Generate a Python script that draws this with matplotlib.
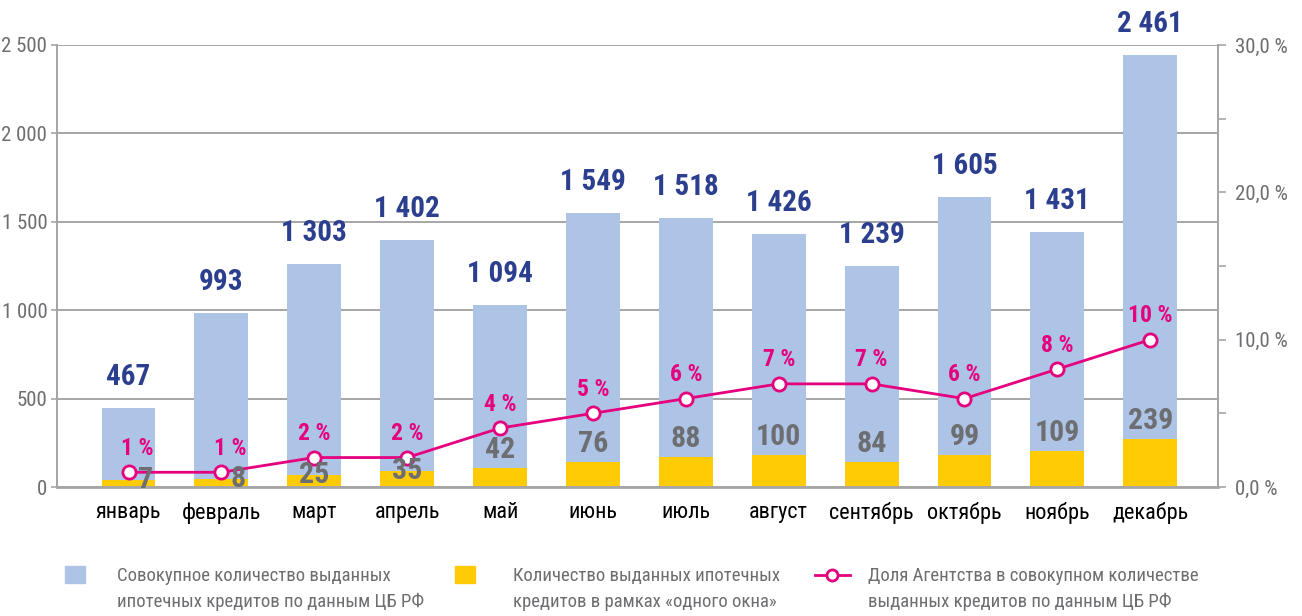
import os

import matplotlib
import numpy as np
from matplotlib import font_manager

matplotlib.use("Agg")
import matplotlib.pyplot as plt
from matplotlib.font_manager import FontProperties
from matplotlib.lines import Line2D
from matplotlib.patches import Rectangle
from matplotlib.ticker import FuncFormatter, MultipleLocator

months = ["январь", "февраль", "март", "апрель", "май", "июнь",
          "июль", "август", "сентябрь", "октябрь", "ноябрь", "декабрь"]
total_bars = [447, 984, 1261, 1397, 1029, 1550, 1521, 1431, 1250, 1640, 1442, 2443]
total_labels = ["467", "993", "1 303", "1 402", "1 094", "1 549",
                "1 518", "1 426", "1 239", "1 605", "1 431", "2 461"]
window_bars = [40, 45, 68, 92, 109, 143, 170, 181, 143, 181, 204, 271]
window_labels = ["7", "8", "25", "35", "42", "76", "88", "100", "84", "99", "109", "239"]
share_pct = [1, 1, 2, 2, 4, 5, 6, 7, 7, 6, 8, 10]

legend_labels = [
    "Совокупное количество выданных\nипотечных кредитов по данным ЦБ РФ",
    "Количество выданных ипотечных\nкредитов в рамках «одного окна»",
    "Доля Агентства в совокупном количестве\nвыданных кредитов по данным ЦБ РФ",
]

BLUE = "#aec4e6"
YELLOW = "#ffcb05"
MAGENTA = "#e5007e"
NAVY = "#2b3f8e"
GRAY = "#6d6e71"
AXIS = "#a6a6a6"


def pick_condensed():
    """Find a narrow sans (regular, bold) pair among installed files."""
    prefs = ["robotocondensed", "opensans_condensed", "opensans-cond", "opensanscondensed",
             "notosans-condensed", "liberationsansnarrow", "dejavusanscondensed"]
    files = sorted({f.fname for f in font_manager.fontManager.ttflist})
    for key in prefs:
        group = [p for p in files if os.path.basename(p).lower().startswith(key)]
        if not group:
            continue
        reg = bold = None
        for p in group:
            b = os.path.basename(p).lower()
            if any(s in b for s in ("italic", "oblique", "light", "thin", "medium",
                                    "semibold", "extrabold", "black")):
                continue
            if "bold" in b:
                bold = bold or p
            else:
                reg = reg or p
        if reg and bold:
            return FontProperties(fname=reg), FontProperties(fname=bold), True
    return FontProperties(family="Liberation Sans"), \
        FontProperties(family="Liberation Sans", weight="bold"), False


REG, BOLD, NARROW = pick_condensed()
k = 1.0 if NARROW else 0.85


def fp(base, size):
    f = base.copy()
    f.set_size(size * k)
    return f


def thousands(v, _pos):
    return f"{int(v):,}".replace(",", " ")


W, H = 1302, 616
fig = plt.figure(figsize=(W / 100, H / 100), dpi=100)
ax = fig.add_axes([0.0438, 0.2094, 0.8917, 0.7176])
ax2 = ax.twinx()

x = np.arange(len(months))
w = 0.58
ax.bar(x, total_bars, width=w, color=BLUE, zorder=2)
ax.bar(x, window_bars, width=w, color=YELLOW, zorder=3)

for xi, h, lab in zip(x, total_bars, total_labels):
    ax.annotate(lab, (xi, h), xytext=(0, 12), textcoords="offset points",
                ha="center", va="bottom", fontproperties=fp(BOLD, 21), color=NAVY)

ax2.plot(x, share_pct, color=MAGENTA, lw=2, marker="o", ms=9.5, mfc="white",
         mec=MAGENTA, mew=2, zorder=5)
for xi, p in zip(x, share_pct):
    dx = 6 if p < 2 else 0
    ax2.annotate(f"{p} %", (xi, p), xytext=(dx, 9), textcoords="offset points",
                 ha="center", va="bottom", fontproperties=fp(BOLD, 17), color=MAGENTA)

# counts for the "one window" bars, drawn over the line
for xi, h, lab in zip(x, window_bars, window_labels):
    if h < 100:
        # small values sit on the yellow bar; single digits step aside of the marker
        dx = 12 if len(lab) == 1 else 0
        ax2.annotate(lab, (xi, h), xycoords=ax.transData, xytext=(dx, 0),
                     textcoords="offset points", ha="center", va="center",
                     fontproperties=fp(BOLD, 21.5), color=GRAY, zorder=6)
    else:
        ax2.annotate(lab, (xi, h), xycoords=ax.transData, xytext=(0, 3),
                     textcoords="offset points", ha="center", va="bottom",
                     fontproperties=fp(BOLD, 21.5), color=GRAY, zorder=6)

ax.set_xlim(-0.77, 11.73)
ax.set_ylim(0, 2500)
ax2.set_ylim(0, 30)
ax.yaxis.set_major_locator(MultipleLocator(500))
ax.yaxis.set_major_formatter(FuncFormatter(thousands))
ax2.yaxis.set_major_locator(MultipleLocator(5))
ax2.yaxis.set_major_formatter(
    FuncFormatter(lambda v, _p: f"{v:.1f} %".replace(".", ",") if int(round(v)) % 10 == 0 else ""))

ax.set_xticks(x)
ax.set_xticklabels(months)
ax.grid(axis="y", color=AXIS, lw=1.4, zorder=0)
ax.set_axisbelow(True)

for a in (ax, ax2):
    a.spines["top"].set_visible(False)
    for side in ("left", "right", "bottom"):
        a.spines[side].set_color(AXIS)
        a.spines[side].set_linewidth(1.4)
ax.spines["bottom"].set_linewidth(2)
ax.tick_params(axis="x", length=0, pad=11, labelcolor="black")
ax.tick_params(axis="y", length=4, width=1.2, color=AXIS, pad=3, labelcolor=GRAY)
ax2.tick_params(axis="y", length=6, width=1.2, color=AXIS, pad=6, labelcolor=GRAY)
for lab in ax.get_xticklabels():
    lab.set_fontproperties(fp(REG, 16))
for lab in ax.get_yticklabels() + ax2.get_yticklabels():
    lab.set_fontproperties(fp(REG, 15))

# legend drawn by hand: key aligned with the first text line
keys_x = [65, 455, 815]
texts_x = [117, 513, 868]
top_px = 566
for i, (kx, tx, lab) in enumerate(zip(keys_x, texts_x, legend_labels)):
    if i < 2:
        fig.patches.append(Rectangle((kx / W, 1 - (top_px + 17) / H), 20 / W, 17 / H,
                                     transform=fig.transFigure,
                                     color=[BLUE, YELLOW][i], figure=fig))
    else:
        fig.lines.append(Line2D([kx / W, (kx + 35) / W], [1 - 575 / H] * 2,
                                transform=fig.transFigure, color=MAGENTA, lw=2,
                                figure=fig))
        fig.lines.append(Line2D([(kx + 17) / W], [1 - 575 / H], transform=fig.transFigure,
                                marker="o", ms=8, mfc="white", mec=MAGENTA, mew=2,
                                figure=fig))
    fig.text(tx / W, 1 - 567 / H, lab, ha="left", va="top", color=GRAY,
             fontproperties=fp(REG, 13.5), linespacing=1.55)

fig.savefig("out.png", dpi=100)
